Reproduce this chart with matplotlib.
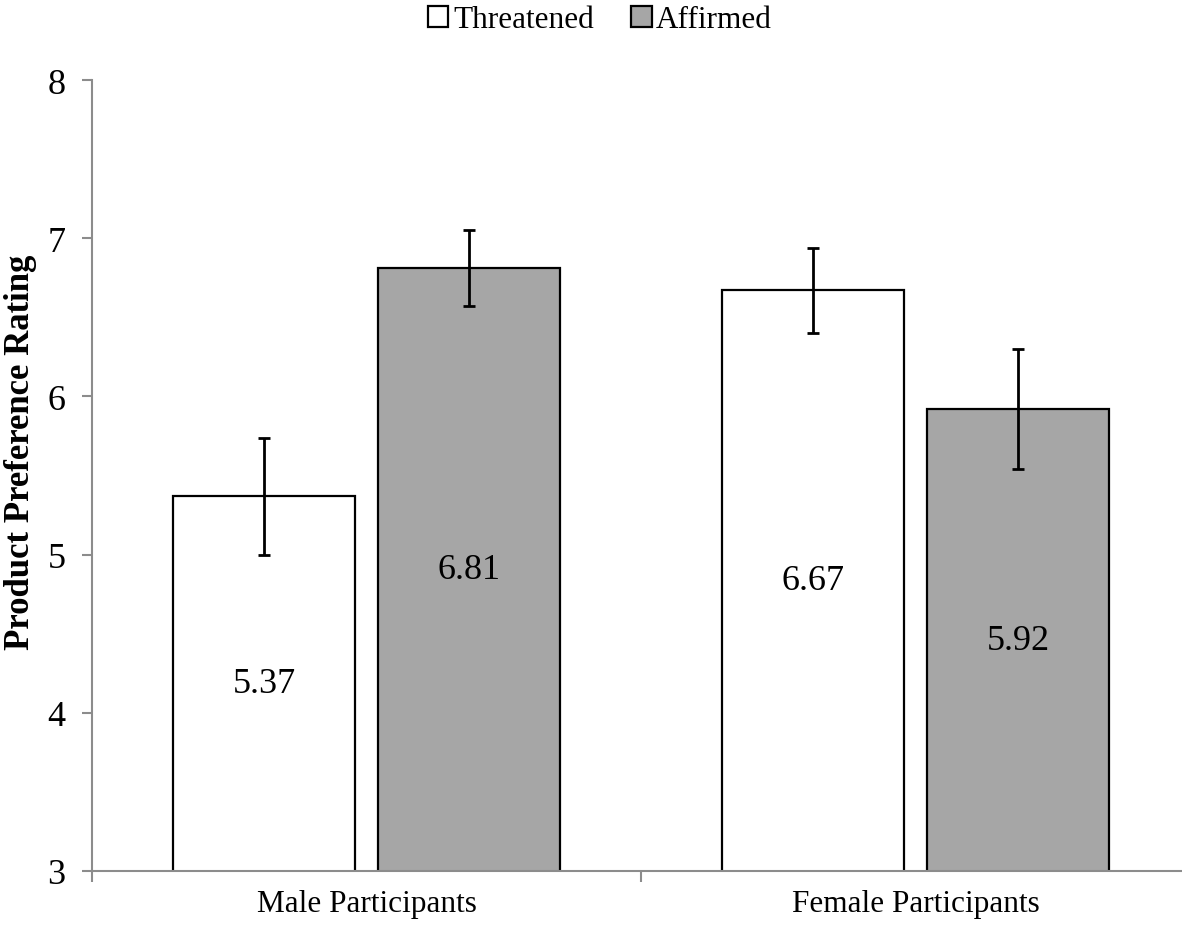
import numpy as np
import matplotlib.pyplot as plt

groups = ['Male Participants', 'Female Participants']
conditions = ['Threatened', 'Affirmed']
threatened = [5.37, 6.67]
affirmed = [6.81, 5.92]
threatened_err = [0.37, 0.27]
affirmed_err = [0.24, 0.38]

plt.rcParams['font.family'] = ['Liberation Serif', 'DejaVu Serif']

fig = plt.figure(figsize=(11.82, 9.29), dpi=100)
ax = fig.add_axes([92/1182, 57/929, 1098/1182, 791/929])

x = np.arange(len(groups)) + 0.5
w = 0.331
off = 0.1865
axis_grey = '#8c8c8c'

b1 = ax.bar(x - off, threatened, w, color='white', edgecolor='black', linewidth=1.6, label=conditions[0], zorder=2)
b2 = ax.bar(x + off, affirmed, w, color='#a6a6a6', edgecolor='black', linewidth=1.6, label=conditions[1], zorder=2)
ax.errorbar(x - off, threatened, yerr=threatened_err, fmt='none', ecolor='black', elinewidth=2, capsize=4.5, capthick=2, zorder=3)
ax.errorbar(x + off, affirmed, yerr=affirmed_err, fmt='none', ecolor='black', elinewidth=2, capsize=4.5, capthick=2, zorder=3)

# value labels in the middle of each bar
for xs, vals in [(x - off, threatened), (x + off, affirmed)]:
    for xi, v in zip(xs, vals):
        ax.text(xi, (3 + v) / 2, f'{v:.2f}', ha='center', va='center', fontsize=26, zorder=4)

ax.set_ylim(3, 8)
ax.set_xlim(0, 2)
ax.set_yticks([3, 4, 5, 6, 7, 8])
ax.tick_params(axis='y', labelsize=26, direction='out', length=7, width=1.5, color=axis_grey, pad=12)
ax.set_xticks([0, 1, 2])
ax.set_xticklabels([])
ax.set_xticks(x, minor=True)
ax.set_xticklabels(groups, minor=True)
ax.tick_params(axis='x', which='major', direction='out', length=8, width=1.5, color=axis_grey)
ax.tick_params(axis='x', which='minor', length=0, labelsize=22.5, pad=13)

for s in ['top', 'right']:
    ax.spines[s].set_visible(False)
for s in ['left', 'bottom']:
    ax.spines[s].set_color(axis_grey)
    ax.spines[s].set_linewidth(1.5)

ax.set_ylabel('Product Preference Rating', fontsize=25, fontweight='bold')
ax.yaxis.set_label_coords(-0.05, 0.53)

fig.legend(handles=[b1, b2], loc='center', bbox_to_anchor=(600/1182, 1 - 21/929), ncol=2,
           frameon=False, fontsize=22.5, handlelength=0.65, handleheight=0.65, handletextpad=0.15,
           columnspacing=1.2)

fig.savefig('out.png', dpi=100)
